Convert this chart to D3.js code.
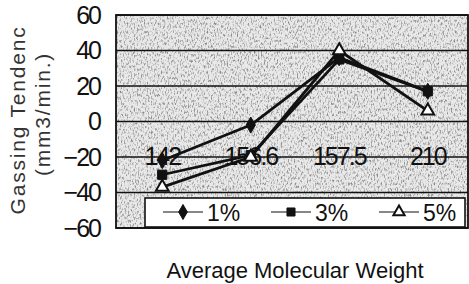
<!DOCTYPE html>
<html>
<head>
<meta charset="utf-8">
<script src="https://cdn.jsdelivr.net/npm/d3@7"></script>
<style>
  body { margin: 0; background: #fff; }
  svg { display: block; font-family: "Liberation Sans", Arial, sans-serif; }
</style>
</head>
<body>
<script>
// データ
const categories = ["142", "156.6", "157.5", "210"];
const series1 = [-22, -2, 36, 17];   // 1%
const series3 = [-30, -19, 35, 17];  // 3%
const series5 = [-37, -20, 40, 6];   // 5%
const seriesNames = ["1%", "3%", "5%"];
const yTicks = [60, 40, 20, 0, -20, -40, -60];

const width = 469;
const height = 284;

const svg = d3.select("body").append("svg")
    .attr("width", width)
    .attr("height", height);

// 背景ノイズ風
const defs = svg.append("defs");
const f = defs.append("filter").attr("id", "grain")
    .attr("x", 0).attr("y", 0).attr("width", 1).attr("height", 1);
f.append("feTurbulence").attr("type", "fractalNoise")
    .attr("baseFrequency", "0.7 0.35").attr("numOctaves", 2).attr("seed", 5);
f.append("feColorMatrix").attr("type", "matrix")
    .attr("values", "0 0 0 0 0.25  0 0 0 0 0.25  0 0 0 0 0.25  0 0 0 3.2 -1.55");
f.append("feComposite").attr("in2", "SourceGraphic").attr("operator", "in");

const pLeft = 116, pRight = 468, pTop = 15, pBottom = 228;

const x = d3.scaleBand().domain(categories).range([118, 472]);
const y = d3.scaleLinear().domain([-60, 60]).range([pBottom, pTop]);

// プロット背景
svg.append("rect")
    .attr("x", pLeft).attr("y", pTop)
    .attr("width", pRight - pLeft).attr("height", pBottom - pTop)
    .style("fill", "#e9e9e9");
svg.append("rect")
    .attr("x", pLeft).attr("y", pTop)
    .attr("width", pRight - pLeft).attr("height", pBottom - pTop)
    .style("fill", "#fff")
    .attr("filter", "url(#grain)");

// グリッド線
svg.selectAll("line.grid")
    .data(yTicks)
    .enter()
    .append("line")
    .attr("x1", pLeft).attr("x2", pRight)
    .attr("y1", d => y(d)).attr("y2", d => y(d))
    .style("stroke", "#111")
    .style("stroke-width", 1.6);

svg.append("rect")
    .attr("x", pLeft).attr("y", pTop)
    .attr("width", pRight - pLeft).attr("height", pBottom - pTop)
    .style("fill", "none")
    .style("stroke", "#111")
    .style("stroke-width", 1.8);

// Y軸ラベル
const yAxis = d3.axisLeft(y).tickValues(yTicks).tickSize(0).tickPadding(0);
const ya = svg.append("g").attr("transform", "translate(100,0)").call(yAxis);
ya.select(".domain").remove();
ya.selectAll("text")
    .style("font-size", "25px")
    .style("letter-spacing", "-2px")
    .style("fill", "#111")
    .style("font-family", "'Liberation Sans', Arial, sans-serif");

// カテゴリラベル (-20 の線上)
svg.selectAll("text.cat")
    .data(categories)
    .enter()
    .append("text")
    .attr("x", d => x(d) + x.bandwidth() / 2)
    .attr("y", y(-20) + 8)
    .attr("text-anchor", "middle")
    .style("font-size", "25px")
    .style("letter-spacing", "-2px")
    .style("fill", "#111")
    .text(d => d);

// 系列
const line = d3.line()
    .x((d, i) => x(categories[i]) + x.bandwidth() / 2)
    .y(d => y(d));

const allSeries = [series1, series3, series5];
const shapes = [d3.symbolDiamond, d3.symbolSquare, d3.symbolTriangle];
const sizes = [75, 85, 70];
const fills = ["#111", "#111", "#fff"];

allSeries.forEach((s, k) => {
    svg.append("path")
        .attr("d", line(s))
        .style("fill", "none")
        .style("stroke", "#111")
        .style("stroke-width", 2.8)
        .style("stroke-linejoin", "round");
});
allSeries.forEach((s, k) => {
    svg.selectAll(null)
        .data(s)
        .enter()
        .append("path")
        .attr("transform", (d, i) => `translate(${x(categories[i]) + x.bandwidth() / 2},${y(d)})`)
        .attr("d", d3.symbol().type(shapes[k]).size(sizes[k]))
        .style("fill", fills[k])
        .style("stroke", "#111")
        .style("stroke-width", k === 2 ? 2 : 1);
});

// 凡例
svg.append("rect")
    .attr("x", 145).attr("y", 198)
    .attr("width", 320).attr("height", 29)
    .style("fill", "#fff")
    .style("stroke", "#111")
    .style("stroke-width", 1.6);

const legX = [163, 271, 379];
seriesNames.forEach((name, k) => {
    const g = svg.append("g").attr("transform", `translate(${legX[k]},212)`);
    g.append("line").attr("x1", 0).attr("x2", 40)
        .style("stroke", "#111").style("stroke-width", 1.2);
    g.append("path")
        .attr("transform", "translate(20,0)")
        .attr("d", d3.symbol().type(shapes[k]).size(k === 2 ? 55 : 65))
        .style("fill", fills[k])
        .style("stroke", "#111")
        .style("stroke-width", k === 2 ? 2 : 1);
    g.append("text")
        .attr("x", 44).attr("y", 8.5)
        .style("font-size", "23px")
        .style("fill", "#111")
        .text(name);
});

// 軸タイトル
svg.append("text")
    .attr("transform", "translate(25,120) rotate(-90)")
    .attr("text-anchor", "middle")
    .style("font-size", "21px")
    .style("letter-spacing", "1.8px")
    .style("fill", "#333")
    .text("Gassing Tendenc");
svg.append("text")
    .attr("transform", "translate(50,114) rotate(-90)")
    .attr("text-anchor", "middle")
    .style("font-size", "21px")
    .style("letter-spacing", "1.8px")
    .style("fill", "#333")
    .text("(mm3/min.)");

svg.append("text")
    .attr("x", 295).attr("y", 278)
    .attr("text-anchor", "middle")
    .style("font-size", "22px")
    .style("fill", "#111")
    .text("Average Molecular Weight");
</script>
</body>
</html>
